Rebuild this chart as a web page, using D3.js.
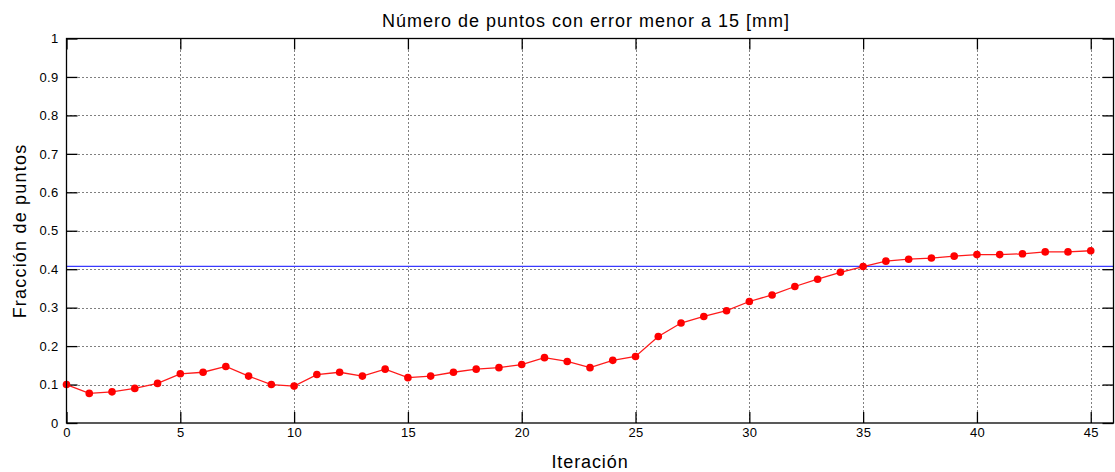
<!DOCTYPE html>
<html>
<head>
<meta charset="utf-8">
<script src="https://cdn.jsdelivr.net/npm/d3@7"></script>
<style>
  html, body { margin: 0; padding: 0; background: #fff; }
  svg { display: block; }
  text { font-family: "Liberation Sans", Arial, sans-serif; fill: #000; }
</style>
</head>
<body>
<svg id="chart" width="1115" height="472"></svg>
<script>
// Iteration index and fraction of points below the error threshold
const iterations = d3.range(0, 46);
const fraction = [
  0.100, 0.077, 0.081, 0.090, 0.103, 0.128, 0.132, 0.147, 0.122, 0.100,
  0.096, 0.126, 0.132, 0.122, 0.140, 0.118, 0.122, 0.132, 0.140, 0.144,
  0.152, 0.170, 0.160, 0.144, 0.163, 0.173, 0.225, 0.260, 0.277, 0.292,
  0.316, 0.333, 0.355, 0.374, 0.392, 0.407, 0.421, 0.426, 0.429, 0.434,
  0.438, 0.438, 0.440, 0.445, 0.445, 0.448
];
const referenceLevel = 0.4076;
const xTicks = [0, 5, 10, 15, 20, 25, 30, 35, 40, 45];
const yTicks = [0, 0.1, 0.2, 0.3, 0.4, 0.5, 0.6, 0.7, 0.8, 0.9, 1];

const titleText = "Número de puntos con error menor a 15 [mm]";
const xLabelText = "Iteración";
const yLabelText = "Fracción de puntos";

const margin = { left: 66.5, right: 1113.5, top: 38.5, bottom: 423 };
const svg = d3.select("#chart");

const x = d3.scaleLinear().domain([0, 46]).range([margin.left, margin.right]);
const y = d3.scaleLinear().domain([0, 1]).range([margin.bottom, margin.top]);

// Dotted grid
const grid = svg.append("g");
grid.selectAll("line.vg").data(xTicks.filter(d => d > 0)).join("line")
  .attr("x1", d => Math.round(x(d)) + 0.5).attr("x2", d => Math.round(x(d)) + 0.5)
  .attr("y1", margin.top).attr("y2", margin.bottom)
  .attr("stroke", "#000").attr("stroke-width", 1).attr("stroke-dasharray", "1,3");
grid.selectAll("line.hg").data(yTicks.filter(d => d > 0 && d < 1)).join("line")
  .attr("y1", d => Math.round(y(d)) + 0.5).attr("y2", d => Math.round(y(d)) + 0.5)
  .attr("x1", margin.left).attr("x2", margin.right)
  .attr("stroke", "#000").attr("stroke-width", 1).attr("stroke-dasharray", "1,3");

// Axes with inward ticks on all four sides
const tickLen = 11;
const bottomAxis = d3.axisBottom(x).tickValues(xTicks).tickSize(-tickLen).tickPadding(5).tickFormat(d3.format("d"));
const topAxis = d3.axisTop(x).tickValues(xTicks).tickSize(-tickLen).tickFormat("");
const leftAxis = d3.axisLeft(y).tickValues(yTicks).tickSize(-tickLen).tickPadding(8).tickFormat(d => d === 0 || d === 1 ? d3.format("d")(d) : d3.format(".1f")(d));
const rightAxis = d3.axisRight(y).tickValues(yTicks).tickSize(-tickLen).tickFormat("");

function styleAxis(g) {
  g.select(".domain").remove();
  g.selectAll(".tick line").attr("stroke", "#000").attr("stroke-width", 1.3);
  g.selectAll(".tick text").style("font-size", "13px").attr("fill", "#000")
    .style("letter-spacing", "0.3px")
    .style("font-family", "'Liberation Sans', Arial, sans-serif");
}
svg.append("g").attr("transform", `translate(0,${margin.bottom})`).call(bottomAxis).call(styleAxis);
svg.append("g").attr("transform", `translate(0,${margin.top})`).call(topAxis).call(styleAxis);
svg.append("g").attr("transform", `translate(${margin.left},0)`).call(leftAxis).call(styleAxis);
svg.append("g").attr("transform", `translate(${margin.right},0)`).call(rightAxis).call(styleAxis);

// Reference level
svg.append("line")
  .attr("x1", margin.left).attr("x2", margin.right)
  .attr("y1", y(referenceLevel)).attr("y2", y(referenceLevel))
  .attr("stroke", "#3b3bff").attr("stroke-width", 1.3);

// Data series
const pts = iterations.map((it, i) => [it, fraction[i]]);
svg.append("path").datum(pts)
  .attr("fill", "none").attr("stroke", "#ff1a1a").attr("stroke-width", 1.3)
  .attr("d", d3.line().x(d => x(d[0])).y(d => y(d[1])));
svg.append("g").selectAll("circle").data(pts).join("circle")
  .attr("cx", d => x(d[0])).attr("cy", d => y(d[1])).attr("r", 3.8)
  .attr("fill", "#ff0000");

// Box
svg.append("rect")
  .attr("x", margin.left).attr("y", margin.top)
  .attr("width", margin.right - margin.left).attr("height", margin.bottom - margin.top)
  .attr("fill", "none").attr("stroke", "#000").attr("stroke-width", 1.3);

// Titles
svg.append("text").attr("x", 586).attr("y", 27).attr("text-anchor", "middle")
  .style("font-size", "18px").style("letter-spacing", "1px").text(titleText);
svg.append("text").attr("x", 590).attr("y", 468).attr("text-anchor", "middle")
  .style("font-size", "18px").style("letter-spacing", "0.9px").text(xLabelText);
svg.append("text").attr("transform", "translate(26,231) rotate(-90)").attr("text-anchor", "middle")
  .style("font-size", "18px").style("letter-spacing", "1.2px").text(yLabelText);
</script>
</body>
</html>
